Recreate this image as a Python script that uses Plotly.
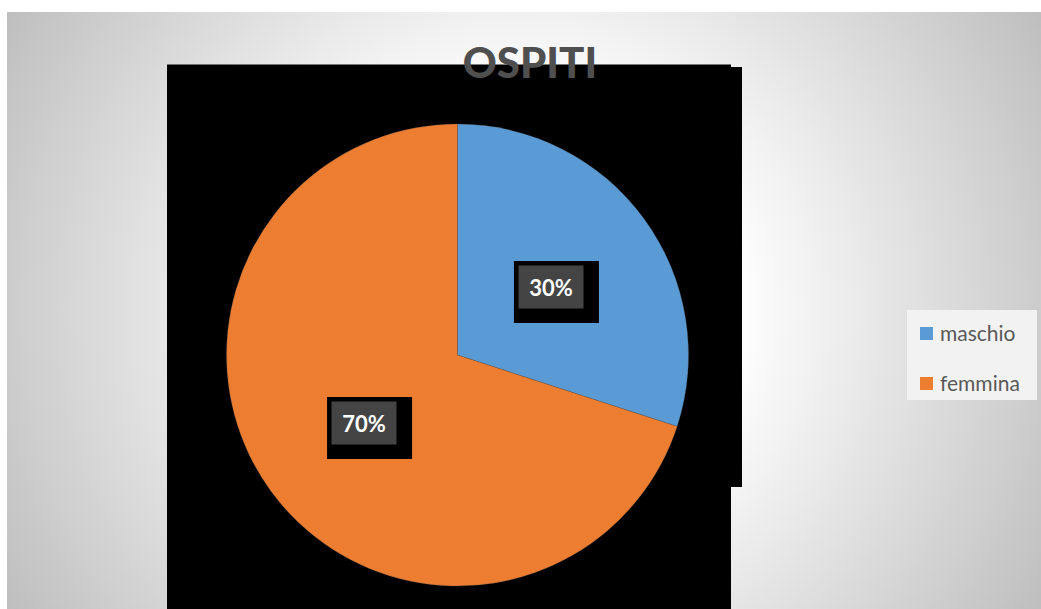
import math
import plotly.graph_objects as go

# --- data -------------------------------------------------------------
categories = ["maschio", "femmina"]
values = [30, 70]
slice_colors = ["#5B9BD5", "#ED7D31"]
title_text = "OSPITI"

# --- canvas geometry (pixel space of the 1041x609 page) ---------------
W, H = 1041, 609
AREA_X0, AREA_Y0 = 7, 12          # chart area origin (white strip outside)
PIE_CX, PIE_CY, PIE_R = 457.5, 355.0, 231.0
FONT = "Lato"

fig = go.Figure()

# radial grey/white backdrop of the chart area
GC_X, GC_Y, GR = 524, 310, 600
fig.add_trace(go.Scatter(
    x=[GC_X - GR, GC_X + GR, GC_X + GR, GC_X - GR, GC_X - GR],
    y=[GC_Y - GR, GC_Y - GR, GC_Y + GR, GC_Y + GR, GC_Y - GR],
    mode="lines", line=dict(width=0), fill="toself",
    fillgradient=dict(type="radial",
                      colorscale=[[0, "#ffffff"], [0.35, "#ffffff"], [1, "#bebebe"]]),
    hoverinfo="skip", showlegend=False,
))

# black panel behind the pie
panel_x = [167, 731, 731, 742, 742, 731, 731, 167, 167]
panel_y = [64.5, 64.5, 67, 67, 487, 487, 612, 612, 64.5]
fig.add_trace(go.Scatter(
    x=panel_x, y=panel_y, mode="lines", line=dict(width=0),
    fill="toself", fillcolor="#000000", hoverinfo="skip", showlegend=False,
))

# pie placed by its domain
fig.add_trace(go.Pie(
    labels=categories, values=values, sort=False, direction="clockwise",
    rotation=0, marker=dict(colors=slice_colors,
                            line=dict(color="rgba(90,90,90,0.45)", width=0.6)),
    textinfo="none", hoverinfo="label+percent", showlegend=False,
    domain=dict(x=[(PIE_CX - PIE_R) / W, (PIE_CX + PIE_R) / W],
                y=[1 - (PIE_CY + PIE_R) / H, 1 - (PIE_CY - PIE_R) / H]),
))

shapes = []
annotations = []

# percentage labels placed halfway out along each slice's mid-angle
total = sum(values)
cum = 0.0
for v in values:
    mid = (cum + v / 2) / total * 2 * math.pi
    cum += v
    lx = PIE_CX + 0.5 * PIE_R * math.sin(mid)
    ly = PIE_CY - 0.5 * PIE_R * math.cos(mid)
    shapes.append(dict(type="rect", xref="x", yref="y", layer="above",
                       x0=lx - 37, x1=lx + 48, y0=ly - 26, y1=ly + 36,
                       fillcolor="#000000", line=dict(width=0)))
    annotations.append(dict(
        x=lx, y=ly, xref="x", yref="y", xanchor="center", yanchor="middle",
        text=f"<b>{round(v / total * 100)}%</b>", showarrow=False,
        width=60, height=38, borderpad=2, bgcolor="#444444",
        font=dict(family=FONT, size=22, color="#ffffff", weight=800),
    ))

# legend panel
LEG_X0, LEG_Y0, LEG_X1, LEG_Y1 = 907, 310, 1037, 400
shapes.append(dict(type="rect", xref="x", yref="y", layer="above",
                   x0=LEG_X0, x1=LEG_X1, y0=LEG_Y0, y1=LEG_Y1,
                   fillcolor="#f2f2f2", line=dict(width=0)))
for i, (name, col) in enumerate(zip(categories, slice_colors)):
    cy = 333.5 + i * 50
    shapes.append(dict(type="rect", xref="x", yref="y", layer="above",
                       x0=920, x1=933, y0=cy - 6.5, y1=cy + 6.5,
                       fillcolor=col, line=dict(width=0)))
    annotations.append(dict(
        x=938, y=cy - 1, xref="x", yref="y", xanchor="left", yanchor="middle",
        text=name, showarrow=False,
        font=dict(family=FONT, size=21, color="#595959"),
    ))

fig.update_layout(
    width=W, height=H,
    margin=dict(l=0, r=0, t=0, b=0),
    paper_bgcolor="#ffffff", plot_bgcolor="rgba(0,0,0,0)",
    xaxis=dict(domain=[AREA_X0 / W, 1], range=[AREA_X0, W], visible=False,
               fixedrange=True),
    yaxis=dict(domain=[0, 1 - AREA_Y0 / H], range=[H, AREA_Y0], visible=False,
               fixedrange=True),
    title=dict(text=title_text, x=530 / W, xanchor="center",
               y=1 - 63 / H, yanchor="middle",
               font=dict(family=FONT, size=42, color="#4f4f4f", weight=900)),
    shapes=shapes, annotations=annotations,
    showlegend=False,
)

fig.write_html("out.html")
